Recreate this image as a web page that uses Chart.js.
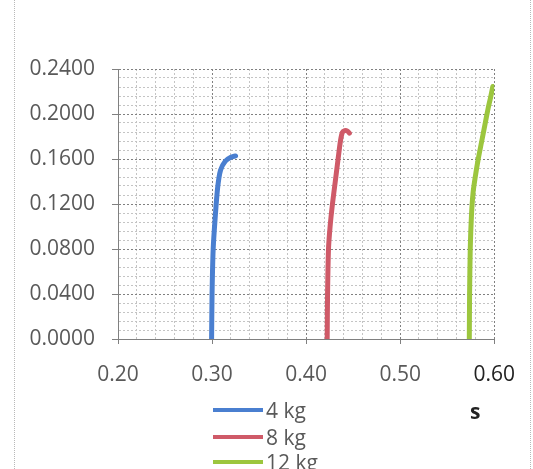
<!DOCTYPE html>
<html>
<head>
<meta charset="utf-8">
<script src="https://cdn.jsdelivr.net/npm/chart.js@4.4.1/dist/chart.umd.min.js"></script>
<style>
  html, body { margin: 0; padding: 0; background: #ffffff; }
  #wrap { position: relative; width: 533px; height: 469px; overflow: hidden; }
  #frame { position: absolute; left: 14px; top: 0; width: 517px; height: 469px;
           border-left: 1px dotted #b8b8b8; border-right: 1px dotted #b8b8b8; box-sizing: border-box; }
  canvas { position: absolute; left: 0; top: 0; }
  .leg { position: absolute; left: 213px; height: 26px; display: flex; align-items: center;
         font-family: "Open Sans", sans-serif; font-size: 21px; color: #595959; white-space: nowrap; }
  .leg .sw { width: 50px; height: 4px; margin-right: 3px; }
  #xtitle { position: absolute; left: 470px; top: 397px; font-family: "Open Sans", sans-serif;
            font-weight: bold; font-size: 21px; color: #222; }
</style>
</head>
<body>
<div id="wrap">
  <div id="frame"></div>
  <canvas id="c" width="533" height="469"></canvas>
  <div id="xtitle">s</div>
</div>
<script>
// ---- data ----
const seriesLabels = ['4 kg', '8 kg', '12 kg'];
const seriesColors = ['#4a7fd0', '#cf5a68', '#9cc63e'];

const s4   = [0.2995, 0.3000, 0.3012, 0.3035, 0.3060, 0.3090, 0.3140, 0.3200, 0.3250];
const y4   = [0.0000, 0.0400, 0.0800, 0.1100, 0.1350, 0.1500, 0.1580, 0.1615, 0.1627];

const s8   = [0.4224, 0.4228, 0.4238, 0.4255, 0.4280, 0.4310, 0.4340, 0.4365, 0.4385, 0.4410, 0.4440, 0.4460];
const y8   = [0.0000, 0.0400, 0.0800, 0.1000, 0.1200, 0.1400, 0.1600, 0.1760, 0.1835, 0.1852, 0.1848, 0.1830];

const s12  = [0.5735, 0.5738, 0.5745, 0.5758, 0.5775, 0.5800, 0.5830, 0.5865, 0.5900, 0.5935, 0.5962, 0.5985];
const y12  = [0.0000, 0.0400, 0.0800, 0.1100, 0.1300, 0.1450, 0.1600, 0.1750, 0.1900, 0.2050, 0.2150, 0.2245];

const xMin = 0.20, xMax = 0.60, xMajor = 0.10, xMinor = 0.02;
const yMin = 0.00, yMax = 0.24, yMajor = 0.04, yMinor = 0.008;

// ---- build ----
function pts(xs, ys) { return xs.map((x, i) => ({ x: x, y: ys[i] })); }
const allX = [s4, s8, s12], allY = [y4, y8, y12];
const datasets = seriesLabels.map((lab, i) => ({
  label: lab,
  data: pts(allX[i], allY[i]),
  showLine: true,
  borderColor: seriesColors[i],
  backgroundColor: seriesColors[i],
  borderWidth: 5,
  pointRadius: 0,
  tension: 0.25,
  borderCapStyle: 'round',
  borderJoinStyle: 'round'
}));

function isMajor(v, step) { const r = v / step; return Math.abs(r - Math.round(r)) < 1e-6; }

const chart = new Chart(document.getElementById('c'), {
  type: 'scatter',
  data: { datasets: datasets },
  options: {
    responsive: false,
    devicePixelRatio: 1,
    animation: false,
    layout: { padding: { top: 69, right: 35, left: 0, bottom: 0 } },
    plugins: { legend: { display: false }, tooltip: { enabled: false } },
    scales: {
      x: {
        type: 'linear', min: xMin, max: xMax,
        afterFit: s => { s.height = 130; },
        afterBuildTicks: s => {
          const t = []; for (let i = 0; i <= Math.round((xMax - xMin) / xMinor); i++) t.push({ value: +(xMin + i * xMinor).toFixed(4) });
          s.ticks = t;
        },
        ticks: {
          autoSkip: false, maxRotation: 0, padding: 18,
          font: { family: 'Open Sans', size: 21 },
          color: ctx => (Math.abs(ctx.tick.value - 0.6) < 1e-6 ? '#222222' : '#595959'),
          callback: v => isMajor(v, xMajor) ? v.toFixed(2) : ''
        },
        grid: {
          color: ctx => (ctx.tick && isMajor(ctx.tick.value, xMajor)) ? '#808080' : '#c4c4c4',
          lineWidth: 1,
          tickLength: 5,
          tickColor: ctx => (ctx.tick && isMajor(ctx.tick.value, xMajor)) ? '#808080' : 'rgba(0,0,0,0)'
        },
        border: { display: true, color: '#808080', dash: [2, 2] }
      },
      y: {
        type: 'linear', min: yMin, max: yMax,
        afterFit: s => { s.width = 118; },
        afterBuildTicks: s => {
          const t = []; for (let i = 0; i <= Math.round((yMax - yMin) / yMinor); i++) t.push({ value: +(yMin + i * yMinor).toFixed(4) });
          s.ticks = t;
        },
        ticks: {
          autoSkip: false, padding: 17,
          font: { family: 'Open Sans', size: 21 },
          color: '#595959',
          callback: v => isMajor(v, yMajor) ? v.toFixed(4) : ''
        },
        grid: {
          color: ctx => (ctx.tick && isMajor(ctx.tick.value, yMajor)) ? '#808080' : '#c4c4c4',
          lineWidth: 1,
          tickLength: 6,
          tickColor: ctx => (ctx.tick && isMajor(ctx.tick.value, yMajor)) ? '#808080' : 'rgba(0,0,0,0)'
        },
        border: { display: true, color: '#808080', dash: [2, 2] }
      }
    }
  }
});

// legend (vertical list under the plot)
const wrap = document.getElementById('wrap');
const legTops = [397, 424, 449];
chart.data.datasets.forEach((ds, i) => {
  const d = document.createElement('div');
  d.className = 'leg';
  d.style.top = legTops[i] + 'px';
  const sw = document.createElement('span');
  sw.className = 'sw';
  sw.style.background = ds.borderColor;
  const tx = document.createElement('span');
  tx.textContent = ds.label;
  d.appendChild(sw); d.appendChild(tx);
  wrap.appendChild(d);
});
</script>
</body>
</html>
